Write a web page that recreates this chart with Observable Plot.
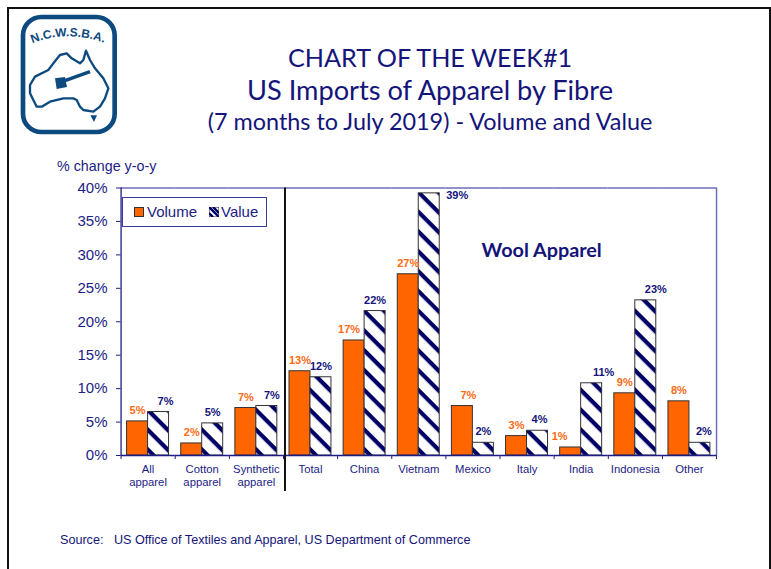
<!DOCTYPE html>
<html>
<head>
<meta charset="utf-8">
<script src="https://cdn.jsdelivr.net/npm/d3@7"></script>
<script src="https://cdn.jsdelivr.net/npm/@observablehq/plot@0.6"></script>
<style>
html,body{margin:0;padding:0;background:#fff;overflow:hidden}
#page{position:relative;width:771px;height:569px;overflow:hidden;font-family:"Liberation Sans",Arial,sans-serif;color:#1c1c85}
#border{position:absolute;left:7px;top:7px;width:760px;height:580px;border:2px solid #111;box-sizing:content-box}
header{position:relative;height:180px}
header svg.logo{position:absolute;left:15px;top:10px;width:110px;height:130px}
.t{position:absolute;left:88px;width:684px;text-align:center;font-family:Lato,"Open Sans",sans-serif;color:#14147a;white-space:nowrap;line-height:1}
#t1{top:45px;font-size:25.2px}
#t2{top:76px;font-size:27.2px}
#t3{top:110px;font-size:23.4px}
#ylab{position:absolute;left:57px;top:158px;font-size:14.3px;line-height:16px}
#chart{position:absolute;left:0;top:180px}
#chart svg{display:block}
#legend{position:absolute;left:122px;top:197px;width:143px;height:28px;border:1px solid #3a3a9c;background:#fff;font-size:15px}
#legend span{position:absolute;top:5px;line-height:18px}
#legend svg{position:absolute}
footer{position:absolute;left:60px;top:532px;font-size:12.6px;line-height:16px;color:#14147a;white-space:pre}
</style>
</head>
<body>
<div id="page">
  <div id="border"></div>
  <header>
    <svg class="logo" viewBox="0 0 330 390">
      <rect x="24" y="21" width="275" height="345" rx="55" fill="#fff" stroke="#0d4a80" stroke-width="14"/>
      <path id="arc" d="M52,100 Q160,56 280,103" fill="none"/>
      <text font-family="Liberation Sans" font-weight="bold" font-size="36" fill="#0d4a80"><textPath href="#arc">N.C.W.S.B.A.</textPath></text>
      <path d="M45,225 L60,200 L100,180 L115,160 L135,135 L155,130 L170,145 L195,160 L205,150 L213,122 L225,150 L240,175 L265,205 L280,235 L270,265 L255,290 L235,305 L205,300 L195,290 L185,270 L175,265 L145,265 L105,275 L80,290 L65,290 L55,270 L45,250 Z" fill="#fff" stroke="#0d4a80" stroke-width="7" stroke-linejoin="round"/>
      <path d="M226,316 L246,316 L237,336 Z" fill="#0d4a80"/>
      <path d="M150,212 L225,185" stroke="#0d4a80" stroke-width="10"/>
      <path d="M120,205 L150,201 L156,231 L125,237 Z" fill="#0d4a80"/>
    </svg>
    <div class="t" id="t1">CHART OF THE WEEK#1</div>
    <div class="t" id="t2">US Imports of Apparel by Fibre</div>
    <div class="t" id="t3">(7 months to July 2019) - Volume and Value</div>
    <div id="ylab">% change y-o-y</div>
  </header>
  <div id="chart"></div>
  <div id="legend">
    <svg style="left:11px;top:9px" width="10" height="10"><rect x=".5" y=".5" width="9" height="9" fill="#ff6600" stroke="#333"/></svg>
    <span style="left:24px">Volume</span>
    <svg style="left:86px;top:9px" width="10" height="10"><rect width="10" height="10" fill="#fff" stroke="#222"/><path d="M0,0 L10,10 M0,6 L4,10 M4,0 L10,6" stroke="#000066" stroke-width="2.4"/></svg>
    <span style="left:98px">Value</span>
  </div>
  <footer>Source:   US Office of Textiles and Apparel, US Department of Commerce</footer>
</div>
<script>
const categories = ["All\napparel","Cotton\napparel","Synthetic\napparel","Total","China","Vietnam","Mexico","Italy","India","Indonesia","Other"];
const volume = [5.1,1.8,7.1,12.6,17.2,27.1,7.4,2.9,1.2,9.3,8.1];
const value  = [6.5,4.8,7.4,11.7,21.6,39.2,1.9,3.7,10.8,23.2,1.9];
const yTicks = [0,5,10,15,20,25,30,35,40];
const seriesNames = ["Volume","Value"];

const rows = categories.flatMap((c,i)=>[
  {category:c,series:"Volume",change:volume[i]},
  {category:c,series:"Value",change:value[i]}
]);
const NAVY="#14147a", AXIS="#1c1c85", FRAME="#6e6eb8", ORANGE="#ff6a13";

// small helpers: labels and edge rules live in each category's facet
const label=(series,color,cats,dx=0,dy=-11)=>Plot.text(
  rows.filter(d=>d.series===series && cats.includes(d.category)),
  {fx:"category",x:"series",y:"change",text:d=>`${Math.round(d.change)}%`,fill:color,dx,dy,
   fontWeight:"bold",fontSize:11,fontFamily:"Liberation Sans"});
const edge=(cat,dx,y1,y2,stroke,strokeWidth=1)=>Plot.ruleX([cat],
  {fx:d=>d,x:()=>"Volume",y1:()=>y1,y2:()=>y2,dx,stroke,strokeWidth});

const toLeft=-16.5, toRight=54.1-16.5;
const c=n=>categories[n];

const defs=()=>{
  const ns="http://www.w3.org/2000/svg";
  const g=document.createElementNS(ns,"defs");
  g.innerHTML=`<pattern id="stripes" patternUnits="userSpaceOnUse" width="14" height="14" patternTransform="rotate(45)">
    <rect width="14" height="14" fill="#fff"/><rect y="0" width="14" height="4.2" fill="#000066"/></pattern>`;
  return g;
};

const chart=Plot.plot({
  width:771,height:320,
  marginLeft:120.5,marginRight:55,marginTop:7.5,marginBottom:45,
  style:{background:"transparent",overflow:"visible"},
  fx:{domain:categories,padding:0,round:false,label:null,axis:null},
  x:{type:"band",domain:seriesNames,paddingInner:0,paddingOuter:0.29,round:false,axis:null,label:null},
  y:{domain:[0,40],label:null,axis:null},
  marks:[
    defs,
    Plot.ruleY([40],{stroke:FRAME,strokeWidth:1.5}),
    Plot.axisFx({domain:categories,anchor:"bottom",tickSize:0,tickPadding:8,label:null,lineHeight:1.16,
      fontSize:11.3,fontFamily:"Liberation Sans",color:AXIS,fill:AXIS}),
    Plot.axisY({ticks:yTicks,tickFormat:d=>`${d}%`,tickSize:4.5,tickPadding:9,label:null,
      fontSize:15,fontFamily:"Liberation Sans",color:AXIS,stroke:AXIS,fill:AXIS}),
    Plot.barY(rows,{filter:d=>d.series==="Volume",fx:"category",x:"series",y:"change",fill:"#ff6600",stroke:"#333",strokeWidth:1}),
    Plot.barY(rows,{filter:d=>d.series==="Value",fx:"category",x:"series",y:"change",fill:"url(#stripes)",stroke:"#333",strokeWidth:1}),
    Plot.ruleY([0],{stroke:AXIS,strokeWidth:1.5}),
    edge(c(0),toLeft,0,40,AXIS,1.3),
    edge(c(10),toRight,0,40,FRAME,1.5),
    ...categories.map(k=>edge(k,toLeft,0,-0.6,AXIS,1)),
    edge(c(10),toRight,0,-0.6,AXIS,1),
    edge(c(3),-15,40,-5.4,"#111",2),
    label("Volume",ORANGE,[c(0),c(1),c(2),c(3),c(5),c(7),c(9),c(10)]),
    label("Volume",ORANGE,[c(4)],-5),
    label("Volume",ORANGE,[c(6)],6),
    label("Volume",ORANGE,[c(8)],-11),
    label("Value",NAVY,[c(1),c(3),c(4),c(6)]),
    label("Value",NAVY,[c(7)],2),
    label("Value",NAVY,[c(0)],7),
    label("Value",NAVY,[c(2)],5),
    label("Value",NAVY,[c(5)],28,2),
    label("Value",NAVY,[c(8)],12),
    label("Value",NAVY,[c(9)],10),
    label("Value",NAVY,[c(10)],4),
    Plot.text(["Wool Apparel"],{fx:()=>c(8),x:()=>"Volume",y:()=>30.7,dx:-29,text:d=>d,
      fill:NAVY,fontWeight:"bold",fontSize:19.8,fontFamily:"Lato"})
  ]
});
document.getElementById("chart").append(chart);
</script>
</body>
</html>
